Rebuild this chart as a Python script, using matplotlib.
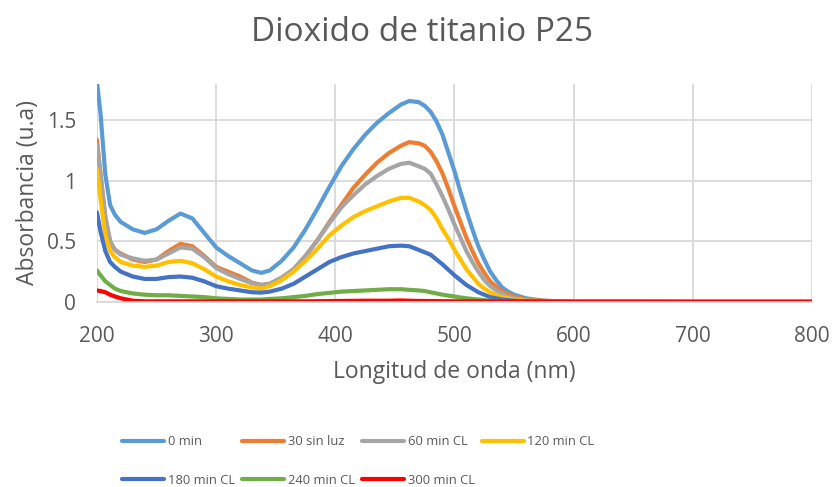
import matplotlib

matplotlib.use("Agg")
import matplotlib.pyplot as plt

plt.rcParams["font.family"] = ["Open Sans", "DejaVu Sans"]

TEXT = "#595959"
GRID = "#D9D9D9"

wavelength = [200, 203, 207, 211, 215, 220, 230, 240, 250, 260, 270, 280, 290,
              300, 310, 320, 330, 338, 345, 355, 365, 375, 385, 395, 405, 415,
              425, 435, 445, 455, 462,
              470, 475, 480, 485, 490, 495, 500, 505, 510, 515, 520, 525, 530,
              535, 540, 545, 550,
              560, 575, 600, 650, 700, 750, 800]

abs_0min = [1.82, 1.55, 1.05, 0.80, 0.72, 0.66, 0.60, 0.57, 0.60, 0.67, 0.73, 0.69, 0.57,
            0.45, 0.38, 0.32, 0.26, 0.24, 0.26, 0.34, 0.45, 0.60, 0.77, 0.95, 1.12, 1.26,
            1.38, 1.48, 1.56, 1.63, 1.66,
            1.65, 1.62, 1.57, 1.49, 1.38, 1.23, 1.08, 0.91, 0.75, 0.60, 0.46, 0.35, 0.25,
            0.18, 0.12, 0.085, 0.06,
            0.03, 0.01, 0.0, 0.0, 0.0, 0.0, 0.0]
abs_30 = [1.34, 1.05, 0.70, 0.50, 0.43, 0.40, 0.35, 0.33, 0.35, 0.42, 0.48, 0.46, 0.38,
          0.29, 0.25, 0.21, 0.16, 0.14, 0.15, 0.20, 0.27, 0.38, 0.51, 0.66, 0.80, 0.94,
          1.05, 1.15, 1.23, 1.29, 1.32,
          1.31, 1.29, 1.24, 1.16, 1.06, 0.93, 0.79, 0.66, 0.53, 0.42, 0.32, 0.24, 0.17,
          0.125, 0.09, 0.065, 0.045,
          0.02, 0.01, 0.0, 0.0, 0.0, 0.0, 0.0]
abs_60 = [1.30, 1.05, 0.70, 0.50, 0.43, 0.39, 0.36, 0.34, 0.35, 0.40, 0.45, 0.44, 0.37,
          0.28, 0.23, 0.19, 0.155, 0.14, 0.15, 0.20, 0.27, 0.38, 0.51, 0.65, 0.78, 0.88,
          0.97, 1.04, 1.10, 1.14, 1.15,
          1.12, 1.10, 1.06, 0.97, 0.87, 0.76, 0.64, 0.53, 0.42, 0.33, 0.25, 0.18, 0.13,
          0.095, 0.07, 0.045, 0.03,
          0.015, 0.005, 0.0, 0.0, 0.0, 0.0, 0.0]
abs_120 = [1.10, 0.85, 0.55, 0.42, 0.37, 0.33, 0.30, 0.29, 0.30, 0.33, 0.34, 0.32, 0.27,
           0.21, 0.17, 0.14, 0.12, 0.11, 0.13, 0.18, 0.25, 0.34, 0.44, 0.55, 0.63, 0.70,
           0.75, 0.79, 0.83, 0.86, 0.86,
           0.83, 0.80, 0.76, 0.69, 0.60, 0.52, 0.43, 0.35, 0.27, 0.21, 0.15, 0.11, 0.08,
           0.055, 0.04, 0.03, 0.02,
           0.01, 0.005, 0.0, 0.0, 0.0, 0.0, 0.0]
abs_180 = [0.74, 0.58, 0.42, 0.33, 0.29, 0.25, 0.21, 0.19, 0.19, 0.205, 0.21, 0.20, 0.17,
           0.13, 0.11, 0.095, 0.08, 0.077, 0.085, 0.11, 0.15, 0.21, 0.27, 0.33, 0.37, 0.40,
           0.42, 0.44, 0.46, 0.465, 0.46,
           0.43, 0.41, 0.39, 0.35, 0.31, 0.265, 0.22, 0.18, 0.14, 0.11, 0.08, 0.06, 0.04,
           0.03, 0.02, 0.015, 0.01,
           0.005, 0.0, 0.0, 0.0, 0.0, 0.0, 0.0]
abs_240 = [0.26, 0.22, 0.17, 0.14, 0.11, 0.09, 0.07, 0.06, 0.055, 0.055, 0.05, 0.045, 0.04,
           0.03, 0.025, 0.02, 0.02, 0.02, 0.025, 0.03, 0.04, 0.05, 0.065, 0.075, 0.085, 0.09,
           0.095, 0.10, 0.105, 0.105, 0.10,
           0.095, 0.09, 0.08, 0.07, 0.06, 0.052, 0.045, 0.037, 0.03, 0.025, 0.02, 0.015, 0.01,
           0.007, 0.005, 0.002, 0.0,
           0.0, 0.0, 0.0, 0.0, 0.0, 0.0, 0.0]
abs_300 = [0.095, 0.09, 0.08, 0.06, 0.045, 0.03, 0.01, 0.005, 0.005, 0.005, 0.005, 0.005, 0.005,
           0.005, 0.005, 0.005, 0.005, 0.005, 0.005, 0.005, 0.005, 0.005, 0.006, 0.007, 0.008, 0.009,
           0.01, 0.01, 0.01, 0.012, 0.01,
           0.008, 0.008, 0.007, 0.007, 0.006, 0.006, 0.005, 0.005, 0.005, 0.005, 0.005, 0.005, 0.005,
           0.005, 0.005, 0.005, 0.005,
           0.005, 0.004, 0.003, 0.003, 0.002, 0.002, 0.002]

labels = ["0 min", "30 sin luz", "60 min CL", "120 min CL",
          "180 min CL", "240 min CL", "300 min CL"]
series = [abs_0min, abs_30, abs_60, abs_120, abs_180, abs_240, abs_300]
colors = ["#5B9BD5", "#ED7D31", "#A5A5A5", "#FFC000", "#4472C4", "#70AD47", "#FF0000"]

fig = plt.figure(figsize=(8.34, 4.87), dpi=100)
ax = fig.add_axes([0.1163, 0.38, 0.8573, 0.4475])

lines = []
for vals, lab, col in zip(series, labels, colors):
    (ln,) = ax.plot(wavelength, vals, color=col, lw=3, label=lab,
                    solid_capstyle="round", solid_joinstyle="round")
    lines.append(ln)

ax.set_xlim(200, 800)
ax.set_ylim(0, 1.8)
ax.set_xticks(range(200, 801, 100))
ax.set_yticks([0, 0.5, 1, 1.5])
ax.set_yticklabels(["0", "0.5", "1", "1.5"])
ax.grid(True, color=GRID, lw=1.3)
ax.set_axisbelow(True)
for side in ["top", "right", "left"]:
    ax.spines[side].set_visible(False)
ax.spines["bottom"].set_color(GRID)
ax.spines["bottom"].set_linewidth(1.3)
ax.tick_params(length=0, labelsize=15, labelcolor=TEXT)
ax.tick_params(axis="x", pad=17)
ax.tick_params(axis="y", pad=15)

ax.set_xlabel("Longitud de onda (nm)", fontsize=16.5, color=TEXT, labelpad=10)
ax.set_ylabel("Absorbancia (u.a)", fontsize=16.5, color=TEXT, labelpad=5)
fig.text(0.506, 0.934, "Dioxido de titanio P25", ha="center", va="center",
         fontsize=24, color=TEXT)

# reorder so the column-first legend reads row by row
order = [0, 4, 1, 5, 2, 6, 3]
fig.legend([lines[i] for i in order], [labels[i] for i in order],
           ncol=4, loc="center left", bbox_to_anchor=(122 / 834, 0.053),
           frameon=False, fontsize=9.4, labelcolor=TEXT,
           borderpad=0, borderaxespad=0,
           handlelength=3.2, handletextpad=0.3, columnspacing=0.55,
           labelspacing=1.95)

fig.savefig("out.png", dpi=100)
